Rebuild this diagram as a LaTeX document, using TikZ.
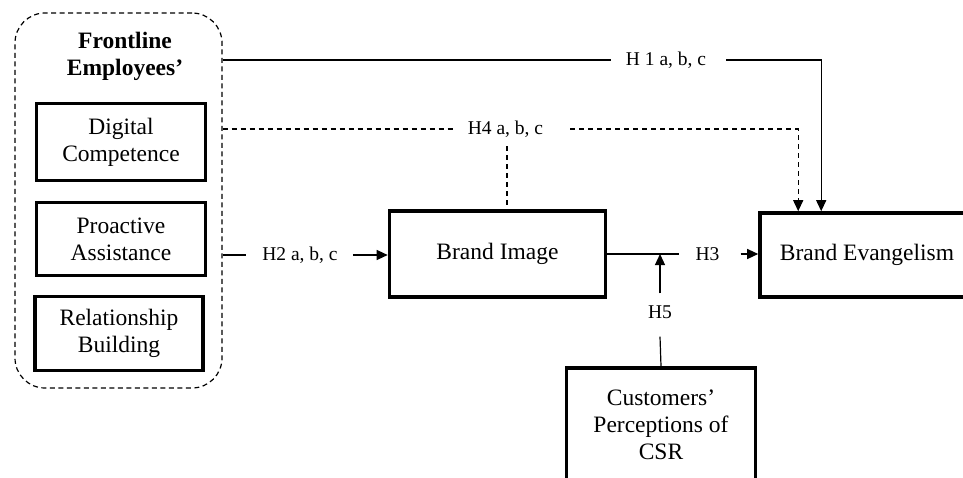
\documentclass[tikz,border=0pt]{standalone}
\usepackage{fontspec}
\setmainfont{Liberation Serif}
\usetikzlibrary{arrows.meta}
\begin{document}
\begin{tikzpicture}[x=1pt,y=-1pt,
  box/.style={draw,line width=3.6pt,align=center,inner sep=0pt,
    font=\fontsize{23.5}{27}\selectfont},
  container/.style={draw,line width=1.2pt,dash pattern=on 5pt off 3.5pt,rounded corners=30pt,inner sep=0pt},
  lbl/.style={inner sep=0pt,font=\fontsize{19.5}{22}\selectfont},
  conn/.style={line width=1.2pt},
  dconn/.style={line width=1.2pt,dash pattern=on 5pt off 4pt},
  arr/.style={-{Triangle[length=11pt,width=10pt]}}]
\clip (0,0) rectangle (963,477);
\fill[white] (0,0) rectangle (963,477);
% container
\node[container,minimum width=207pt,minimum height=375pt] (fe) at (118.5,200.5) {};
\node[align=center,inner sep=0pt,font=\bfseries\fontsize{23.5}{27}\selectfont] (ft) at (125,56) {Frontline\\Employees{\char"0027}};
\node[box,minimum width=169pt,minimum height=77pt] (dc) at (121,142) {Digital\\Competence};
\node[box,minimum width=169pt,minimum height=73pt] (pa) at (121,239) {Proactive\\Assistance};
\node[box,minimum width=168pt,minimum height=74pt] (rb) at (119,333.5) {Relationship\\Building};
% main boxes
\node[box,minimum width=216pt,minimum height=86pt] (bi) at (497.5,254) {Brand Image};
\node[box,minimum width=214pt,minimum height=84pt] (be) at (867,255) {Brand Evangelism};
\node[box,minimum width=189pt,minimum height=114pt] (csr) at (661,425) {Customers’\\Perceptions of\\CSR};
% labels
\node[lbl] (h1) at (666,60) {H 1 a, b, c};
\node[lbl] (h4) at (505.5,129) {H4 a, b, c};
\node[lbl] (h2) at (300,255) {H2 a, b, c};
\node[lbl] (h3) at (707.5,254) {H3};
\node[lbl] (h5) at (660,312) {H5};
% H1
\draw[conn] (fe.east |- h1.west) -- ([xshift=-15pt]h1.west);
\draw[conn,arr] ([xshift=20pt]h1.east) -| ([xshift=63pt]be.north west);
% H4
\draw[dconn] (fe.east |- h4.west) -- ([xshift=-13pt]h4.west);
\draw[dconn,arr] ([xshift=27pt]h4.east) -| ([xshift=40pt]be.north west);
\draw[dconn] ([xshift=1.5pt,yshift=-9pt]h4.south) -- ([xshift=1.5pt]h4.south |- bi.north);
% H2
\draw[conn] (fe.east |- h2.west) -- ([xshift=-16pt]h2.west);
\draw[conn,arr] ([xshift=15pt]h2.east) -- (bi.west |- h2.east);
% H3
\draw[conn] (bi.east) -- ([xshift=-16pt]h3.west);
\draw[conn,arr] ([xshift=21pt]h3.east) -- (be.west |- h3.east);
% H5
\draw[conn] (csr.north) -- ([yshift=-18pt]h5.south);
\draw[conn,arr] ([yshift=12pt]h5.north) -- (h5.north |- bi.east);
\end{tikzpicture}
\end{document}
